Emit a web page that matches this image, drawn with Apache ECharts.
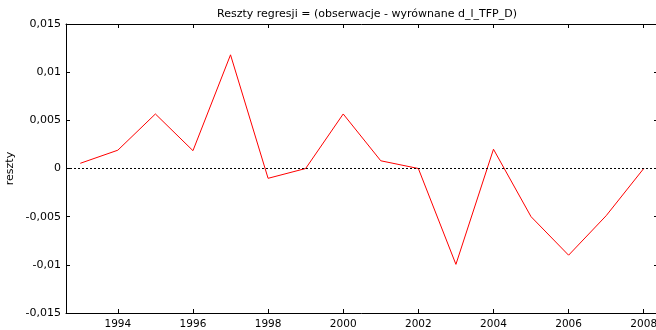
<!DOCTYPE html>
<html>
<head>
<meta charset="utf-8">
<script src="https://cdn.jsdelivr.net/npm/echarts@6/dist/echarts.min.js"></script>
<style>html,body{margin:0;padding:0;background:#fff;}#c{width:656px;height:330px;}</style>
</head>
<body>
<div id="c"></div>
<script>
const titleText = 'Reszty regresji = (obserwacje - wyrównane d_l_TFP_D)';
const yName = 'reszty';
const years = [1993,1994,1995,1996,1997,1998,1999,2000,2001,2002,2003,2004,2005,2006,2007,2008];
const residuals = [0.00054,0.0019,0.00566,0.00185,0.0118,-0.00102,0.0000,0.00566,0.0008,0.0000,-0.00995,0.0020,-0.0050,-0.0090,-0.0049,0.0000];
const xTicks = [1994,1996,1998,2000,2002,2004,2006,2008];
const yTicks = [-0.015,-0.01,-0.005,0,0.005,0.01,0.015];

const font = 'DejaVu Sans';
const fmtY = v => {
  const r = Math.round(v * 10000) / 10000;
  if (r === 0) return '0';
  return String(r).replace('.', ',');
};
const chart = echarts.init(document.getElementById('c'), null, {renderer: 'canvas'});
const axisLine = {show: true, onZero: false, lineStyle: {color: '#000', width: 1}};
chart.setOption({
  animation: false,
  backgroundColor: '#fff',
  title: {text: titleText, left: 362, top: 4, textAlign: 'center',
    textStyle: {fontFamily: font, fontSize: 11, fontWeight: 'normal', color: '#000'}},
  grid: {left: 66, top: 24, width: 592, height: 289, containLabel: false, outerBoundsMode: 'none'},
  xAxis: [{
    type: 'value', position: 'bottom', min: 1992.62, max: 2008.38,
    axisLine: axisLine,
    axisTick: {show: true, inside: true, length: 4, customValues: xTicks, lineStyle: {color: '#000'}},
    axisLabel: {show: true, customValues: xTicks, margin: 6, fontFamily: font, fontSize: 10.5, color: '#000', formatter: v => String(v)},
    splitLine: {show: false}
  }, {
    type: 'value', position: 'top', min: 1992.62, max: 2008.38,
    axisLine: axisLine,
    axisTick: {show: true, inside: true, length: 4, customValues: xTicks, lineStyle: {color: '#000'}},
    axisLabel: {show: false},
    splitLine: {show: false}
  }],
  yAxis: [{
    type: 'value', position: 'left', min: -0.015, max: 0.015, interval: 0.005,
    name: yName, nameLocation: 'middle', nameGap: 50, nameMoveOverlap: false,
    nameTextStyle: {fontFamily: font, fontSize: 11, color: '#000'},
    axisLine: axisLine,
    axisTick: {show: true, inside: true, length: 4, lineStyle: {color: '#000'}},
    axisLabel: {show: true, margin: 5, fontFamily: font, fontSize: 11, color: '#000', formatter: fmtY},
    splitLine: {show: false}
  }, {
    type: 'value', position: 'right', min: -0.015, max: 0.015, interval: 0.005,
    axisLine: axisLine,
    axisTick: {show: true, inside: true, length: 4, lineStyle: {color: '#000'}},
    axisLabel: {show: false},
    splitLine: {show: false}
  }],
  series: [{
    type: 'line', xAxisIndex: 0, yAxisIndex: 0,
    data: years.map((y, i) => [y, residuals[i]]),
    showSymbol: false, symbol: 'none',
    lineStyle: {color: '#ff0000', width: 1},
    z: 3,
    markLine: {
      silent: true, symbol: 'none', label: {show: false},
      lineStyle: {color: '#000', type: [2, 2], width: 1},
      data: [{yAxis: 0}]
    }
  }]
});
</script>
</body>
</html>
